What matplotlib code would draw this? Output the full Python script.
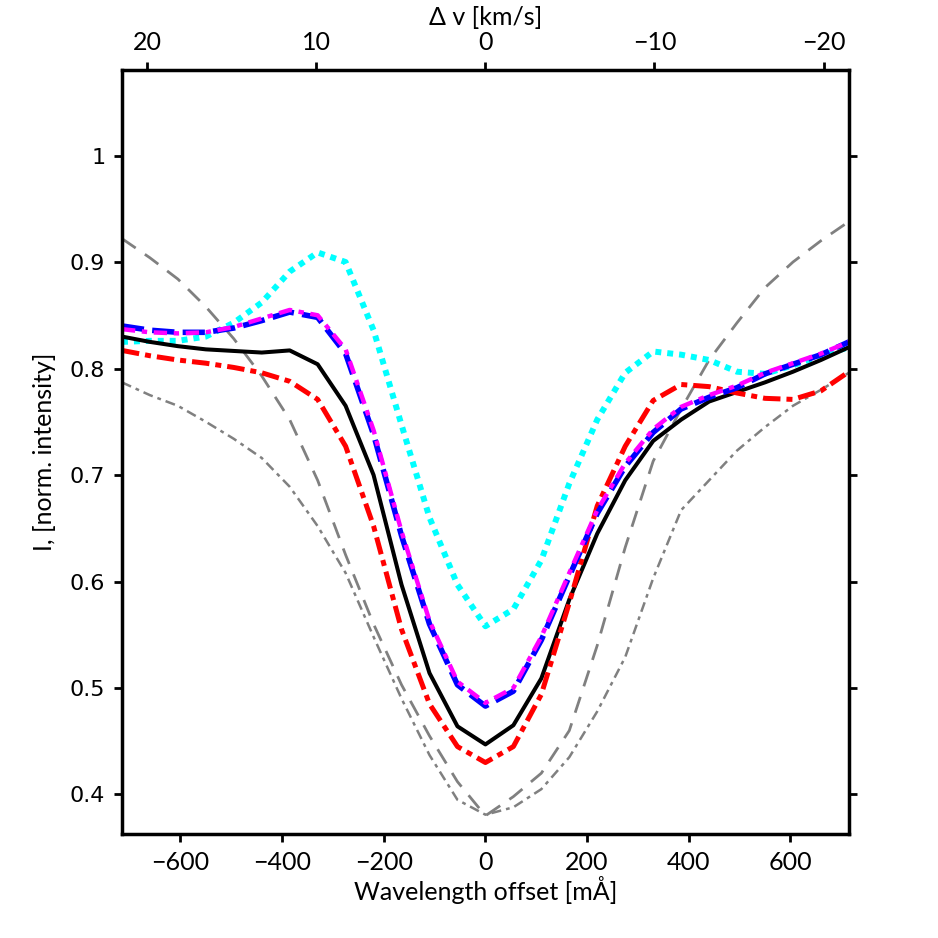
import numpy as np
import matplotlib.pyplot as plt

# wavelength grid [mA]
offset = np.arange(-13, 14) * 55

black = [0.830, 0.825, 0.821, 0.818, 0.8165, 0.815, 0.817, 0.804, 0.765, 0.700, 0.597, 0.514, 0.464,
         0.447, 0.465, 0.509, 0.583, 0.645, 0.695, 0.732, 0.752, 0.769, 0.778, 0.787, 0.797, 0.808, 0.820]
blue = [0.840, 0.836, 0.834, 0.834, 0.838, 0.845, 0.853, 0.848, 0.814, 0.738, 0.643, 0.560, 0.503,
        0.483, 0.497, 0.545, 0.605, 0.664, 0.708, 0.740, 0.762, 0.773, 0.782, 0.795, 0.804, 0.813, 0.825]
magenta = [0.837, 0.834, 0.833, 0.834, 0.839, 0.847, 0.855, 0.850, 0.818, 0.742, 0.647, 0.563, 0.506,
           0.486, 0.500, 0.548, 0.608, 0.667, 0.711, 0.743, 0.764, 0.775, 0.784, 0.796, 0.805, 0.814, 0.825]
red = [0.817, 0.812, 0.808, 0.805, 0.801, 0.796, 0.788, 0.771, 0.727, 0.652, 0.555, 0.485, 0.445,
       0.430, 0.445, 0.494, 0.580, 0.671, 0.727, 0.770, 0.785, 0.783, 0.777, 0.772, 0.771, 0.779, 0.797]
cyan = [0.825, 0.826, 0.826, 0.830, 0.843, 0.862, 0.891, 0.909, 0.900, 0.836, 0.747, 0.660, 0.597,
        0.558, 0.574, 0.620, 0.692, 0.752, 0.796, 0.816, 0.813, 0.808, 0.797, 0.795, 0.803, 0.812, 0.820]
gray_dash = [0.922, 0.904, 0.884, 0.858, 0.828, 0.793, 0.752, 0.695, 0.625, 0.560, 0.503, 0.455, 0.412,
             0.380, 0.398, 0.420, 0.460, 0.540, 0.632, 0.713, 0.762, 0.808, 0.843, 0.876, 0.900, 0.920, 0.938]
gray_dashdot = [0.787, 0.775, 0.765, 0.750, 0.734, 0.716, 0.689, 0.652, 0.608, 0.548, 0.490, 0.437, 0.395,
                0.381, 0.388, 0.405, 0.435, 0.478, 0.529, 0.603, 0.667, 0.695, 0.723, 0.745, 0.765, 0.780, 0.796]

lam0 = 9970e3  # mA
c = 299792.458  # km/s

narrow = ['Lato', 'DejaVu Sans']

fig = plt.figure(figsize=(9.38, 9.38), dpi=100)
ax = fig.add_axes([0.130, 0.111, 0.775, 0.814])

gr = (0.5, 0.5, 0.5)
ax.plot(offset, gray_dash, color=gr, lw=2.0, ls=(0, (6, 4)))
ax.plot(offset, gray_dashdot, color=gr, lw=1.8, ls=(0, (4, 2, 1.5, 2)))
ax.plot(offset, cyan, color='cyan', lw=4.3, ls=(0, (1, 1)))
ax.plot(offset, black, color='k', lw=2.9)
ax.plot(offset, red, color='red', lw=3.6, ls=(0, (3.5, 1.2, 1.2, 1.2)))
ax.plot(offset, blue, color='blue', lw=4.0, ls=(0, (4, 1.5)))
ax.plot(offset, magenta, color='magenta', lw=3.2, ls=(0, (3, 1.5, 1.2, 1.5)))

ax.set_xlim(-715, 715)
ax.set_ylim(0.363, 1.08)
ax.set_xticks([-600, -400, -200, 0, 200, 400, 600])
ax.set_xticklabels(['\u2212600', '\u2212400', '\u2212200', '0', '200', '400', '600'],
                   family=narrow, fontsize=18)
ax.set_yticks([0.4, 0.5, 0.6, 0.7, 0.8, 0.9, 1.0])
ax.set_yticklabels(['0.4', '0.5', '0.6', '0.7', '0.8', '0.9', '1'], family='DejaVu Sans', fontsize=16)
ax.tick_params(direction='out', length=6, width=2, top=False, right=True, pad=6)
for s in ax.spines.values():
    s.set_linewidth(2.5)

ax.set_xlabel('Wavelength offset [mÅ]', family=narrow, fontsize=18, labelpad=2)
ax.set_ylabel('I, [norm. intensity]', family=narrow, fontsize=18, labelpad=10)

top = ax.secondary_xaxis('top', functions=(lambda x: -x * c / lam0, lambda v: -v * lam0 / c))
top.set_xticks([20, 10, 0, -10, -20])
top.set_xticklabels(['20', '10', '0', '\u221210', '\u221220'], family=narrow, fontsize=18)
top.tick_params(direction='out', length=6, width=2, pad=6)
top.set_xlabel('\u0394 v [km/s]', family=narrow, fontsize=18, labelpad=4)

fig.savefig('out.png', dpi=100)
